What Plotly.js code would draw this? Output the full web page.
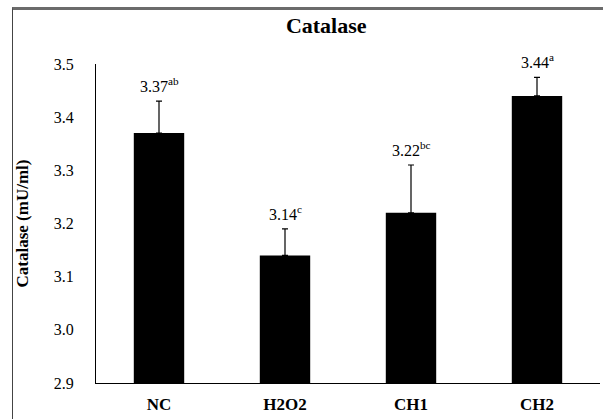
<!DOCTYPE html>
<html>
<head>
<meta charset="utf-8">
<script src="https://cdn.plot.ly/plotly-3.0.1.min.js"></script>
<style>
  html, body { margin: 0; padding: 0; background: #fff; }
  #wrap { position: relative; width: 603px; height: 419px; overflow: hidden; }
  #chart { position: absolute; left: 0; top: 0; width: 603px; height: 419px; }
  #frame { position: absolute; left: 12px; top: 7px; width: 700px; height: 500px;
           border-top: 3px solid #6b6b6b; border-left: 1.5px solid #444; pointer-events: none; }
</style>
</head>
<body>
<div id="wrap">
  <div id="chart"></div>
  <div id="frame"></div>
</div>
<script>
const categories = ["NC", "H2O2", "CH1", "CH2"];
const means = [3.37, 3.14, 3.22, 3.44];
const sem = [0.06, 0.05, 0.09, 0.035];
const letters = ["ab", "c", "bc", "a"];
const yTicks = [2.9, 3.0, 3.1, 3.2, 3.3, 3.4, 3.5];
const yTickText = ["2.9", "3.0", "3.1", "3.2", "3.3", "3.4", "3.5"];

const serif = "'Liberation Serif', 'DejaVu Serif', serif";

const trace = {
  type: "bar",
  x: categories,
  y: means,
  marker: { color: "#000000", line: { width: 0 } },
  error_y: { type: "data", array: sem, symmetric: false, arrayminus: sem.map(() => 0),
             color: "#000000", thickness: 1.2, width: 3 },
  hoverinfo: "none"
};

const annotations = categories.map((c, i) => ({
  x: c,
  y: means[i] + sem[i],
  xref: "x", yref: "y",
  text: means[i].toFixed(2) + "<sup>" + letters[i] + "</sup>",
  showarrow: false,
  yanchor: "bottom",
  yshift: 4,
  font: { family: serif, size: 16, color: "#000" }
}));

const layout = {
  width: 603, height: 419,
  margin: { l: 96, r: 3, t: 64, b: 36 },
  paper_bgcolor: "#ffffff",
  plot_bgcolor: "#ffffff",
  showlegend: false,
  bargap: 0.6,
  font: { family: serif },
  title: { text: "<b>Catalase</b>", x: 0.541, xanchor: "center", y: 0.94, yanchor: "middle",
           font: { family: serif, size: 22, color: "#000" } },
  xaxis: {
    type: "category",
    range: [-0.5, 3.5],
    showline: true, linecolor: "#000", linewidth: 1,
    showgrid: false, zeroline: false,
    ticks: "", ticklabelstandoff: 6,
    tickfont: { family: serif, size: 17, color: "#000", weight: "bold" }
  },
  yaxis: {
    range: [2.9, 3.5],
    tickvals: yTicks, ticktext: yTickText,
    showline: true, linecolor: "#000", linewidth: 1,
    showgrid: false, zeroline: false,
    ticks: "", ticklabelstandoff: 18,
    tickfont: { family: serif, size: 16, color: "#000" },
    title: { text: "<b>Catalase (mU/ml)</b>", standoff: 20,
             font: { family: serif, size: 17, color: "#000" } }
  },
  annotations: annotations
};

Plotly.newPlot("chart", [trace], layout, { displayModeBar: false, staticPlot: true });
</script>
</body>
</html>
